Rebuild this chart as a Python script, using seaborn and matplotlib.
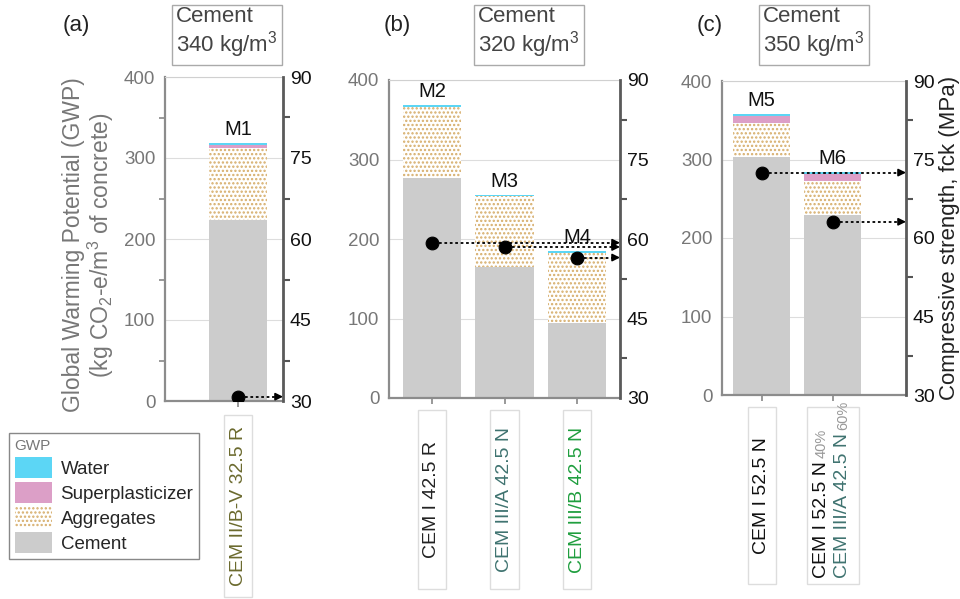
import numpy as np
import pandas as pd
import matplotlib
matplotlib.use("Agg")
import matplotlib.pyplot as plt
import seaborn as sns
from matplotlib.patches import Patch, Rectangle
from matplotlib import transforms

# ---------------- data ----------------
mixes = ["M1", "M2", "M3", "M4", "M5", "M6"]
panels = ["a", "b", "b", "b", "c", "c"]
cement_types = ["CEM II/B-V 32.5 R", "CEM I 42.5 R", "CEM III/A 42.5 N",
                "CEM III/B 42.5 N", "CEM I 52.5 N", "CEM I 52.5 N + CEM III/A 42.5 N"]
gwp_cement = [224, 277, 165, 94, 303, 229]
gwp_aggregates = [88, 89, 89, 89, 43, 43]
gwp_superplasticizer = [4, 0, 0, 0, 9, 9]
gwp_water = [2, 2, 1.5, 1.5, 2.5, 2.5]
strength_fck = [30.8, 59.3, 58.5, 56.5, 72.5, 63.1]
panel_ids = ["a", "b", "c"]
panel_labels = ["(a)", "(b)", "(c)"]
cement_content = [340, 320, 350]
blend_parts = ["CEM I 52.5 N", "CEM III/A 42.5 N"]
blend_pct = ["40%", "60%"]
components = ["Water", "Superplasticizer", "Aggregates", "Cement"]
gwp_ticks = [0, 100, 200, 300, 400]
fck_ticks = [30, 45, 60, 75, 90]

# ---------------- style ----------------
sns.set_theme(style="white")
plt.rcParams["font.family"] = ["Liberation Sans", "DejaVu Sans"]
plt.rcParams["mathtext.fontset"] = "custom"
plt.rcParams["mathtext.rm"] = "Liberation Sans"
plt.rcParams["mathtext.it"] = "Liberation Sans:italic"
plt.rcParams["mathtext.bf"] = "Liberation Sans:bold"
plt.rcParams["hatch.linewidth"] = 1.1

water_c = "#5cd6f5"
sp_c = "#dc9fc7"
agg_c = "#d6ad6a"
cement_c = "#cccccc"
label_colors = ["#6b6a2e", "#222222", "#3f7370", "#1f9e3e", "#111111", "#111111"]
AGG_HATCH = "...."

df = pd.DataFrame({
    "mix": mixes, "panel": panels, "cement_type": cement_types,
    "cement": gwp_cement, "aggregates": gwp_aggregates,
    "sp": gwp_superplasticizer, "water": gwp_water, "fck": strength_fck,
})
df["top_agg"] = df["cement"] + df["aggregates"]
df["top_sp"] = df["top_agg"] + df["sp"]
df["top_water"] = df["top_sp"] + df["water"]

W, H = 960, 599
fig = plt.figure(figsize=(W / 100, H / 100), dpi=100)


def px_rect(x0, y0, x1, y1):
    return [x0 / W, 1 - y1 / H, (x1 - x0) / W, (y1 - y0) / H]


ax_px = [(165, 77, 283, 401), (389, 80, 620, 398), (722, 81, 906, 395)]
xlims = [(-1.01, 0.62), (-0.59, 2.59), (-0.56, 2.03)]
box_y = [(415, 597), (410, 589), (407, 584)]
title_x = [176, 478, 763]
plabel_x = [63, 384, 697]

blend_texts = []
for i, pid in enumerate(panel_ids):
    sub = df[df["panel"] == pid].reset_index(drop=True)
    n = len(sub)
    ax = fig.add_axes(px_rect(*ax_px[i]))
    ax.set_axisbelow(True)

    for col, colr in [("top_water", water_c), ("top_sp", sp_c),
                      ("top_agg", "white"), ("cement", cement_c)]:
        before = len(ax.patches)
        sns.barplot(data=sub, x="mix", y=col, color=colr, ax=ax, width=0.8,
                    saturation=1, errorbar=None, linewidth=0, zorder=2)
        for p in ax.patches[before:]:
            p.set_linewidth(0)
            if col == "top_agg":
                p.set_facecolor("white")
                p.set_edgecolor(agg_c)
                p.set_hatch(AGG_HATCH)
            else:
                p.set_edgecolor("none")

    ax.set_xlim(*xlims[i])
    ax.set_ylim(0, 400)
    ax.set_xlabel("")
    ax.set_ylabel("")
    ax.set_yticks(gwp_ticks)
    ax.set_yticks([50, 150, 250, 350], minor=True)
    ax.set_xticks(range(n))
    ax.set_xticklabels([])
    ax.yaxis.grid(True, color="#dddddd", lw=0.8)
    ax.tick_params(axis="y", which="major", length=0, pad=7, labelsize=13.5,
                   labelcolor="#777777")
    ax.tick_params(axis="y", which="minor", length=(4 if i == 0 else 0),
                   width=1.2, color="#888888", left=True)
    ax.tick_params(axis="x", length=4, width=1.2, color="#888888", bottom=True)
    for s in ["left", "bottom"]:
        ax.spines[s].set_color("#8c8c8c")
        ax.spines[s].set_linewidth(1.6)
    ax.spines["top"].set_color("#d0d0d0")
    ax.spines["top"].set_linewidth(0.8)
    ax.spines["right"].set_visible(False)

    # mix labels
    for j in range(n):
        ax.annotate(sub.loc[j, "mix"], xy=(j, sub.loc[j, "top_water"]),
                    xytext=(0, 3), textcoords="offset points", ha="center",
                    va="bottom", fontsize=14.5, color="#111111")

    # strength axis
    ax2 = ax.twinx()
    ax2.set_ylim(30, 90)
    ax2.set_yticks(fck_ticks)
    ax2.set_yticks([37.5, 52.5, 67.5, 82.5], minor=True)
    ax2.tick_params(axis="y", which="major", length=0, pad=5, labelsize=14,
                    labelcolor="#111111")
    ax2.tick_params(axis="y", which="minor", length=5, width=1.5, color="#555555",
                    right=True)
    for s in ["left", "top", "bottom"]:
        ax2.spines[s].set_visible(False)
    ax2.spines["right"].set_color("#5a5a5a")
    ax2.spines["right"].set_linewidth(2.0)
    ax2.grid(False)

    xs = np.arange(n)
    sns.scatterplot(x=xs, y=sub["fck"].values, ax=ax2, color="black", s=85,
                    edgecolor="black", zorder=6, legend=False)
    xr = xlims[i][1]
    for j in range(n):
        yv = sub.loc[j, "fck"]
        ax2.plot([j + 0.1, xr - 0.06], [yv, yv], ls=(0, (1.5, 1.5)),
                 color="black", lw=1.3, zorder=5)
        ax2.annotate("", xy=(xr, yv), xytext=(xr - 0.1, yv),
                     arrowprops=dict(arrowstyle="-|>", color="black", lw=1.2,
                                     shrinkA=0, shrinkB=0, mutation_scale=11),
                     zorder=5)

    # category label boxes
    blend = transforms.blended_transform_factory(ax.transData, fig.transFigure)
    y0, y1 = box_y[i]
    for j in range(n):
        mix_row = df.index[df["mix"] == sub.loc[j, "mix"]][0]
        is_blend = sub.loc[j, "mix"] == "M6"
        bw = 0.74 if is_blend else 0.39
        rect = Rectangle((j - bw / 2, 1 - y1 / H), bw, (y1 - y0) / H,
                         transform=blend, fc="white", ec="#dddddd", lw=1,
                         clip_on=False, zorder=1)
        fig.add_artist(rect)
        if not is_blend:
            fig.text(j, 1 - (y0 + y1) / 2 / H, sub.loc[j, "cement_type"],
                     transform=blend, rotation=90, ha="center", va="center",
                     fontsize=14, color=label_colors[mix_row], zorder=3)
        else:
            for k, (part, colr, dx) in enumerate(zip(blend_parts,
                                                      ["#111111", "#3f7370"],
                                                      [-11, 10])):
                tr = transforms.offset_copy(blend, fig=fig, x=dx, y=0, units="dots")
                t = fig.text(j, 1 - 578 / H, part, transform=tr, rotation=90,
                             ha="center", va="bottom", fontsize=14, color=colr,
                             zorder=3)
                blend_texts.append((t, blend_pct[k]))

    # title boxes and panel labels
    fig.text(title_x[i] / W, 1 - 6 / H,
             "Cement\n" + f"{cement_content[i]} kg/m$^3$",
             ha="left", va="top", fontsize=16, color="#444444", linespacing=1.1,
             bbox=dict(boxstyle="square,pad=0.2", fc="white", ec="#aaaaaa", lw=1))
    fig.text(plabel_x[i] / W, 1 - 25 / H, panel_labels[i], ha="left", va="center",
             fontsize=16, color="#222222")

# percentages after blended cement text
fig.canvas.draw()
for t, pct in blend_texts:
    bb = t.get_window_extent()
    fig.text((bb.x0 + bb.x1) / 2 / W, (bb.y1 + 3) / H, pct, rotation=90,
             ha="center", va="bottom", fontsize=10.5, color="#999999", zorder=3)

# axis titles
fig.text(89 / W, 1 - 245 / H,
         "Global Warming Potential (GWP)\n(kg CO$_2$-e/m$^3$ of concrete)",
         rotation=90, ha="center", va="center", fontsize=16.5, color="#777777",
         linespacing=1.0)
fig.text(950 / W, 1 - 238 / H, "Compressive strength, fck (MPa)", rotation=90,
         ha="center", va="center", fontsize=16, color="#222222")

# legend
handles = [Patch(facecolor=water_c, edgecolor="none"),
           Patch(facecolor=sp_c, edgecolor="none"),
           Patch(facecolor="white", edgecolor=agg_c, hatch=AGG_HATCH, linewidth=0),
           Patch(facecolor=cement_c, edgecolor="none")]
leg = fig.legend(handles, components, loc="upper left",
                 bbox_to_anchor=(9 / W, 1 - 433 / H), title="GWP",
                 alignment="left", fontsize=13.5, title_fontsize=11,
                 frameon=True, fancybox=False, edgecolor="#888888",
                 handlelength=2.0, handleheight=1.35, labelspacing=0.22,
                 handletextpad=0.45, borderpad=0.3, borderaxespad=0)
leg.get_title().set_color("#777777")
leg.get_frame().set_linewidth(1)
leg.get_frame().set_alpha(1)

fig.savefig("out.png", dpi=100)
